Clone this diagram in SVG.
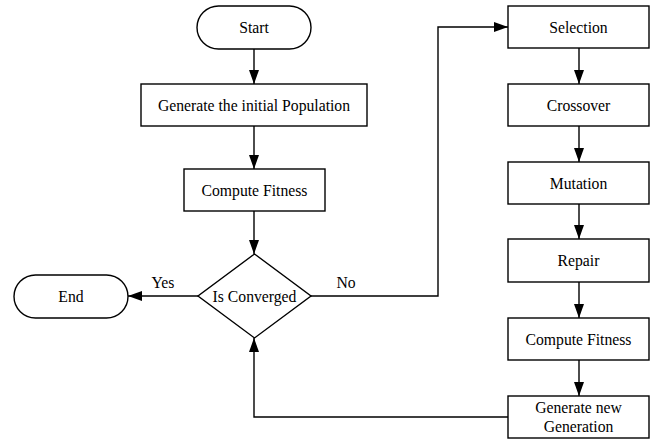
<svg xmlns="http://www.w3.org/2000/svg" width="656" height="439" viewBox="0 0 656 439">
<style>
.s{fill:#fff;stroke:#000;stroke-width:1.4}
.t{font-family:"Liberation Serif","Times New Roman",serif;font-size:15.7px;fill:#000;text-anchor:middle}
.c{fill:none;stroke:#000;stroke-width:1.4}
</style>
<defs>
<marker id="ah" markerUnits="userSpaceOnUse" markerWidth="14" markerHeight="10" refX="14" refY="5" orient="auto">
<path d="M0,0 L14,5 L0,10 z" fill="#000"/>
</marker>
</defs>
<rect width="656" height="439" fill="#fff"/>
<g id="connectors">
<path class="c" d="M254,49 V84" marker-end="url(#ah)"/>
<path class="c" d="M254,126 V169" marker-end="url(#ah)"/>
<path class="c" d="M254,211 V254" marker-end="url(#ah)"/>
<path class="c" d="M198,296 H128" marker-end="url(#ah)"/>
<path class="c" d="M311,296 H438 V27 H508" marker-end="url(#ah)"/>
<path class="c" d="M579,48 V84" marker-end="url(#ah)"/>
<path class="c" d="M579,126 V162" marker-end="url(#ah)"/>
<path class="c" d="M579,204 V239" marker-end="url(#ah)"/>
<path class="c" d="M579,282 V318" marker-end="url(#ah)"/>
<path class="c" d="M579,360 V396" marker-end="url(#ah)"/>
<path class="c" d="M508,417 H254 V338" marker-end="url(#ah)"/>
<text class="t" x="163" y="288">Yes</text>
<text class="t" x="346" y="288">No</text>
</g>
<g id="start"><rect class="s" x="197" y="6" width="114" height="43" rx="21.5"/><text class="t" x="254" y="33">Start</text></g>
<g id="init"><rect class="s" x="141" y="84" width="226" height="42"/><text class="t" x="254" y="111">Generate the initial Population</text></g>
<g id="fitness1"><rect class="s" x="184" y="169" width="141" height="42"/><text class="t" x="254.5" y="196">Compute Fitness</text></g>
<g id="converged"><path class="s" d="M254.5,254 L311,296 L254.5,338 L198,296 Z"/><text class="t" x="254.5" y="301.5">Is Converged</text></g>
<g id="end"><rect class="s" x="14" y="275" width="114" height="43" rx="21.5"/><text class="t" x="71" y="302">End</text></g>
<g id="selection"><rect class="s" x="508" y="6" width="141" height="42"/><text class="t" x="578.5" y="33">Selection</text></g>
<g id="crossover"><rect class="s" x="508" y="84" width="141" height="42"/><text class="t" x="578.5" y="111">Crossover</text></g>
<g id="mutation"><rect class="s" x="508" y="162" width="141" height="42"/><text class="t" x="578.5" y="189">Mutation</text></g>
<g id="repair"><rect class="s" x="508" y="239" width="141" height="43" rx="0"/><text class="t" x="578.5" y="266">Repair</text></g>
<g id="fitness2"><rect class="s" x="508" y="318" width="141" height="42"/><text class="t" x="578.5" y="345">Compute Fitness</text></g>
<g id="newgen"><rect class="s" x="508" y="396" width="141" height="42"/><text class="t" x="578.5" y="413">Generate new</text><text class="t" x="578.5" y="432">Generation</text></g>
</svg>
